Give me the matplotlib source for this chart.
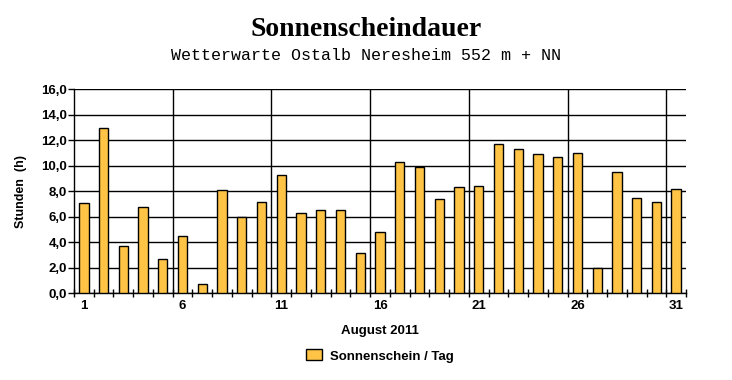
import matplotlib
matplotlib.use("Agg")
import matplotlib.pyplot as plt
from matplotlib.patches import Patch
from matplotlib.ticker import FixedLocator, FuncFormatter, MultipleLocator

# data
days = list(range(1, 32))
sunshine = [7.1, 13.0, 3.7, 6.8, 2.7, 4.5, 0.7, 8.1, 6.0, 7.2,
            9.3, 6.3, 6.5, 6.5, 3.2, 4.8, 10.3, 9.9, 7.4, 8.3,
            8.4, 11.7, 11.3, 10.9, 10.7, 11.0, 2.0, 9.5, 7.5, 7.2, 8.2]
day_labels = [1, 6, 11, 16, 21, 26, 31]

title = "Sonnenscheindauer"
subtitle = "Wetterwarte Ostalb Neresheim 552 m + NN"
xlabel = "August 2011"
ylabel = "Stunden  (h)"
series_name = "Sonnenschein / Tag"

bar_color = "#FFC445"

plt.rcParams["font.family"] = "Liberation Sans"
plt.rcParams["font.weight"] = "bold"

fig = plt.figure(figsize=(7.32, 3.80), dpi=100)
ax = fig.add_axes([74 / 732, 1 - 293.3 / 380, (686 - 74) / 732, (293.3 - 89.3) / 380])

ax.bar(days, sunshine, width=0.47, color=bar_color, edgecolor="black",
       linewidth=1.0, zorder=3)

ax.set_xlim(0.5, 31.5)
ax.set_ylim(0, 16)

# grid
ax.yaxis.set_major_locator(MultipleLocator(2))
ax.yaxis.set_major_formatter(FuncFormatter(lambda v, p: f"{v:.1f}".replace(".", ",")))
ax.grid(axis="y", color="black", linewidth=1.0, zorder=1)
for d in day_labels[1:]:
    ax.axvline(d - 0.5, color="black", linewidth=1.0, zorder=1)

ax.xaxis.set_major_locator(FixedLocator(day_labels))
ax.set_xticklabels([str(d) for d in day_labels])
ax.xaxis.set_minor_locator(FixedLocator([k + 0.5 for k in range(0, 32)]))
ax.tick_params(axis="x", which="major", length=0, pad=5, labelsize=9.5)
ax.tick_params(axis="x", which="minor", direction="inout", length=6, width=1)
ax.tick_params(axis="y", which="major", direction="out", length=4, width=1,
               labelsize=9.5, pad=1)

for s in ["top", "right"]:
    ax.spines[s].set_visible(False)
ax.spines["left"].set_linewidth(1.0)
ax.spines["bottom"].set_linewidth(1.0)

ax.set_xlabel(xlabel, fontsize=9.5, fontweight="bold", labelpad=9)
ax.set_ylabel(ylabel, fontsize=9, fontweight="bold", labelpad=10)

fig.text(0.5, 1 - 29 / 380, title, ha="center", va="center",
         fontsize=20, fontweight="bold", family="Liberation Serif")
fig.text(0.5, 1 - 56 / 380, subtitle, ha="center", va="center",
         fontsize=12, fontweight="normal", family="Liberation Mono")

handle = Patch(facecolor=bar_color, edgecolor="black", linewidth=1.0)
fig.legend([handle], [series_name], loc="center", bbox_to_anchor=(380 / 732, 1 - 356 / 380),
           frameon=False, fontsize=9.5, handlelength=1.2, handleheight=0.9,
           handletextpad=0.6)

fig.savefig("out.png", dpi=100)
